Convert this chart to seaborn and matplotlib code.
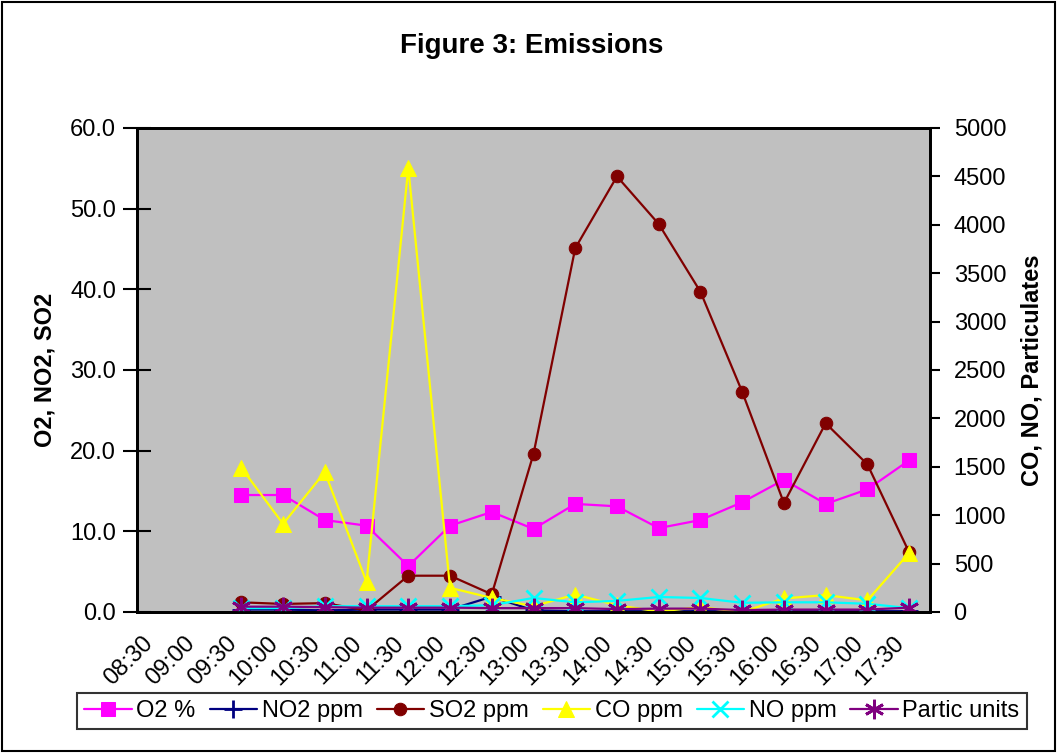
import matplotlib
matplotlib.use("Agg")
import matplotlib.pyplot as plt
import matplotlib.transforms as mtransforms
from matplotlib.patches import Rectangle
import seaborn as sns
import pandas as pd

# ---- data ----
tick_labels = ["08:30", "09:00", "09:30", "10:00", "10:30", "11:00", "11:30", "12:00", "12:30",
               "13:00", "13:30", "14:00", "14:30", "15:00", "15:30", "16:00", "16:30", "17:00", "17:30"]
times = tick_labels[2:]
o2 = [14.5, 14.5, 11.4, 10.7, 5.7, 10.7, 12.4, 10.3, 13.4, 13.1, 10.4, 11.4, 13.6, 16.4, 13.4, 15.2, 18.8]
no2 = [0.3, 0.3, 0.2, 0.3, 0.3, 0.3, 1.9, 0.2, 0.1, 0.1, 0.1, 0.1, 0.1, 0.1, 0.1, 0.1, 0.1]
so2 = [1.2, 1.0, 1.1, 0.2, 4.5, 4.5, 2.2, 19.6, 45.1, 54.0, 48.1, 39.7, 27.3, 13.5, 23.4, 18.3, 7.4]
co = [1490, 910, 1446, 310, 4590, 250, 145, 60, 180, 70, 5, 50, 0, 140, 175, 120, 610]
no = [40, 40, 60, 60, 60, 60, 70, 145, 100, 115, 155, 145, 95, 100, 100, 85, 40]
partic = [55, 55, 50, 45, 45, 45, 40, 40, 40, 30, 35, 35, 20, 25, 25, 25, 45]

sns.set_style("white")
plt.rcParams["font.family"] = ["Liberation Sans", "DejaVu Sans"]
for k in ("text.color", "axes.labelcolor", "xtick.color", "ytick.color"):
    plt.rcParams[k] = "black"

pos = {t: i for i, t in enumerate(tick_labels)}
df = pd.DataFrame({"t": times, "x": [pos[t] for t in times], "O2": o2, "NO2": no2,
                   "SO2": so2, "CO": co, "NO": no, "Partic": partic})

fig = plt.figure(figsize=(10.58, 7.53), dpi=100)
ax = fig.add_axes([137 / 1058, 1 - 612 / 753, (930 - 137) / 1058, (612 - 128) / 753])
ax.set_facecolor("#C0C0C0")
ax2 = ax.twinx()
ax2.patch.set_alpha(0)

lw = 1.6
sns.lineplot(data=df, x="x", y="O2", ax=ax, color="#FF00FF", marker="s", markersize=10,
             markeredgecolor="#FF00FF", linewidth=lw, label="O2 %")
sns.lineplot(data=df, x="x", y="NO2", ax=ax, color="#000080", marker="+", markersize=13,
             markeredgewidth=2, markeredgecolor="#000080", linewidth=lw, label="NO2 ppm")
sns.lineplot(data=df, x="x", y="SO2", ax=ax, color="#800000", marker="o", markersize=9,
             markeredgecolor="#800000", linewidth=lw, label="SO2 ppm")
sns.lineplot(data=df, x="x", y="CO", ax=ax2, color="#FFFF00", marker="^", markersize=11,
             markeredgecolor="#FFFF00", linewidth=lw, label="CO ppm")
sns.lineplot(data=df, x="x", y="NO", ax=ax2, color="#00FFFF", marker="x", markersize=11,
             markeredgewidth=2, markeredgecolor="#00FFFF", linewidth=lw, label="NO ppm")
sns.lineplot(data=df, x="x", y="Partic", ax=ax2, color="#800080", marker=(6, 2, 0), markersize=14,
             markeredgewidth=2, markeredgecolor="#800080", linewidth=lw, label="Partic units")

h1, l1 = ax.get_legend_handles_labels()
h2, l2 = ax2.get_legend_handles_labels()
for a in (ax, ax2):
    if a.get_legend():
        a.get_legend().remove()

ax.set_xlim(-0.5, len(tick_labels) - 0.5)
ax.set_ylim(0, 60)
ax2.set_ylim(0, 5000)
ax.set_yticks(range(0, 61, 10))
ax.set_yticklabels([f"{v:.1f}" for v in range(0, 61, 10)])
ax2.set_yticks(range(0, 5001, 500))
ax2.set_yticklabels([str(v) for v in range(0, 5001, 500)])

fs = 17
ax.set_xticks(range(len(tick_labels)))
ax.set_xticklabels(tick_labels, rotation=45, ha="right", va="center", rotation_mode="anchor")
ax.set_xticks([i - 0.5 for i in range(len(tick_labels) + 1)], minor=True)
ax.tick_params(axis="x", which="major", length=0, pad=20, labelsize=fs)
ax.tick_params(axis="x", which="minor", length=12, width=2, direction="inout", color="black")
ax.tick_params(axis="y", length=20, width=1.5, direction="inout", labelsize=fs, pad=5, color="black")
ax2.tick_params(axis="y", length=7, width=1.5, direction="out", labelsize=fs, pad=10, color="black")
offset = mtransforms.ScaledTranslation(-8 / 100, 0, fig.dpi_scale_trans)
for lab in ax.get_xticklabels():
    lab.set_transform(lab.get_transform() + offset)

ax.set_xlabel("")
ax.set_ylabel("O2, NO2, SO2", fontsize=fs, fontweight="bold", labelpad=10)
ax2.set_ylabel("CO, NO, Particulates", fontsize=fs, fontweight="bold", labelpad=10)

for a in (ax, ax2):
    for s in a.spines.values():
        s.set_color("black")
        s.set_linewidth(2)
        s.set_visible(True)

fig.text(0.503, 1 - 46 / 753, "Figure 3: Emissions", ha="center", va="center",
         fontsize=20, fontweight="bold")

leg = fig.legend(h1 + h2, l1 + l2, loc="center", bbox_to_anchor=(552 / 1058, 1 - 711 / 753),
                 ncol=6, fontsize=fs, frameon=True, fancybox=False, edgecolor="black",
                 handlelength=2.0, handletextpad=0.2, columnspacing=0.6, borderpad=0.3)
leg.get_frame().set_linewidth(1.5)

fig.patches.append(Rectangle((0.002, 0.003), 0.995, 0.994, transform=fig.transFigure,
                             fill=False, edgecolor="black", linewidth=1.5))

fig.savefig("out.png", dpi=100, facecolor="white")
